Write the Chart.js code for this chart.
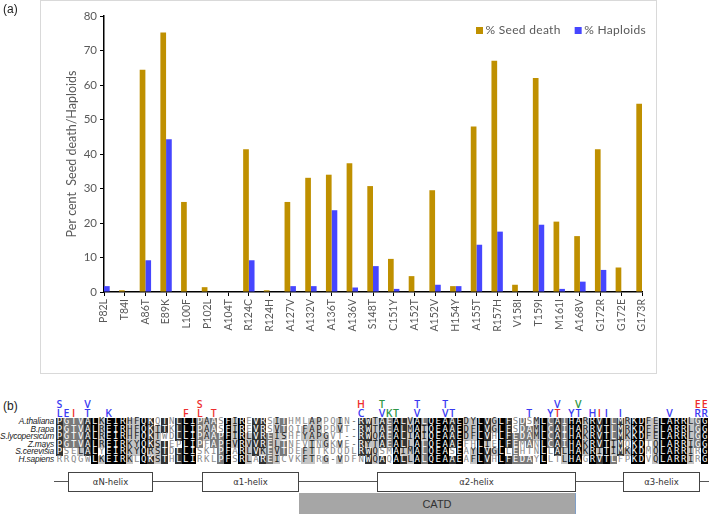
<!DOCTYPE html>
<html><head><meta charset="utf-8">
<script src="https://cdn.jsdelivr.net/npm/chart.js@4.4.0/dist/chart.umd.min.js"></script>
<style>
html,body{margin:0;padding:0;background:#fff;width:709px;height:514px;overflow:hidden;}
#frame{position:absolute;left:40px;top:0;width:617px;height:374px;border:1px solid #d9d9d9;box-sizing:border-box;}
#chartWrap{position:absolute;left:0;top:0;width:709px;height:380px;}
.plabel{position:absolute;font-family:'Liberation Sans',Arial,sans-serif;font-size:12px;color:#222;}
.cell{position:absolute;height:7.6px;font-family:'DejaVu Sans Mono',monospace;font-size:9px;line-height:7.8px;text-align:center;overflow:visible;}
.sp{position:absolute;right:655px;font-family:'Liberation Sans',Arial,sans-serif;font-style:italic;font-size:8.4px;letter-spacing:-0.2px;line-height:7.6px;color:#222;white-space:nowrap;}
.mk{position:absolute;width:8px;text-align:center;font-family:'Open Sans',sans-serif;font-weight:600;font-size:10.5px;line-height:9px;}
.helix{position:absolute;top:472px;height:20px;background:#fff;border:1px solid #444;box-sizing:border-box;font-family:'DejaVu Sans',sans-serif;font-size:8.5px;line-height:18px;text-align:center;color:#333;}
</style></head>
<body>
<div id="frame"></div>
<div id="chartWrap"><canvas id="c" width="709" height="380" style="width:709px;height:380px"></canvas></div>
<div class="plabel" style="left:3px;top:2px">(a)</div>
<div class="plabel" style="left:3px;top:399px">(b)</div>
<div id="seq"></div>
<script>
// ---------- panel (a) data ----------
const categories = ['P82L','T84I','A86T','E89K','L100F','P102L','A104T','R124C','R124H','A127V','A132V','A136T','A136V','S148T','C151Y','A152T','A152V','H154Y','A155T','R157H','V158I','T159I','M161I','A168V','G172R','G172E','G173R'];
const seedDeath = [0, 0.5, 64.4, 75.2, 26.1, 1.4, 0, 41.4, 0.5, 26.1, 33.1, 34.0, 37.3, 30.7, 9.6, 4.6, 29.5, 1.7, 48.0, 67.0, 2.1, 62.0, 20.4, 16.2, 41.4, 7.1, 54.6];
const haploids  = [1.7, 0, 9.2, 44.3, 0, 0, 0, 9.2, 0, 1.7, 1.7, 23.7, 1.3, 7.5, 0.9, 0, 2.1, 1.7, 13.7, 17.5, 0, 19.5, 0.9, 3.0, 6.4, 0, 0];
const seriesLabels = ['% Seed death', '% Haploids'];
const yAxisTitle = 'Per cent  Seed death/Haploids';

// ---------- panel (b) data ----------
const species = ['A.thaliana','B.rapa','S.lycopersicum','Z.mays','S.cerevisia','H.sapiens'];
const sequences = [
 'PGTVALKEIRHFQKQTNLLIPAASFIREVRSITHMLAPPQIN-RWTAEALVALQEAAEDYLVGLFSDSMLCAIHARRVTLMRKDFELARRLGG',
 'PGTVALREIRHFQKTTKLLIPAASFIREVRSVTQIFAPPDVT-RWTAEALMAIQEAAEDFLVGLFSDAMLCAIHARRVTLMRKDFELARRLGG',
 'PGTVALREIRHFQKTWDLLIPAAPFIRLVREISHFYAPGVT--RWQAEALIAIQEAAEDFLVHLFEDAMLCAIHAKRVTLMKKDFELARRLGG',
 'PGTVALREIRKYQKSTEPLIPFAPFVRVVRELTNFVTNGKVE-RYTAEALLALQEAAEFHLIELFEMANLCAIHAKRVTIMQKDIQLARRIGG',
 'PSELALYEIRKYQRSTDLLISKIPFARLVKEVTDEFTTKDQDLRWQSMAIMALQEASEAYLVGLLEHTNLLALHAKRITIMKKDMQLARRIRG',
 'RRQGWLKEIRKLQKSTHLLIRKLPFSRLAREICVKFTRG-VDFNWQAQALLALQEAAEAFLVHLFEDAYLLTLHAGRVTLFPKDVQLARRIRG'
];
const marksUpper = [[1,'S','b'],[5,'V','b'],[21,'S','r'],[44,'H','r'],[47,'T','g'],[52,'T','b'],[56,'T','b'],[72,'V','b'],[75,'V','g'],[92,'E','r'],[93,'E','r']];
const marksLower = [[1,'L','b'],[2,'E','b'],[3,'I','r'],[5,'T','b'],[8,'K','b'],[19,'F','r'],[21,'L','r'],[23,'T','r'],[44,'C','b'],[47,'V','b'],[48,'K','g'],[49,'T','g'],[52,'V','b'],[56,'V','b'],[57,'T','b'],[68,'T','b'],[71,'Y','b'],[72,'T','r'],[74,'Y','b'],[75,'T','b'],[77,'H','b'],[78,'I','r'],[79,'I','b'],[81,'I','b'],[88,'V','b'],[92,'R','b'],[93,'R','b']];
const helices = ['\u03b1N-helix','\u03b11-helix','\u03b12-helix','\u03b13-helix'];
const domainLabel = 'CATD';

// ---------- chart ----------
const legendPlugin = {
  id: 'cornerLegend',
  afterDraw(chart) {
    const ctx = chart.ctx;
    ctx.save();
    ctx.font = '12px Lato';
    try { ctx.letterSpacing = '0.3px'; } catch(e) {}
    ctx.textBaseline = 'middle';
    let x = 476; const y = 30.5;
    chart.data.datasets.forEach(ds => {
      ctx.fillStyle = ds.backgroundColor;
      ctx.fillRect(x, y - 3.5, 7, 7);
      x += 9.5;
      ctx.fillStyle = '#595959';
      ctx.fillText(ds.label, x, y);
      x += ctx.measureText(ds.label).width + 14;
    });
    ctx.restore();
  }
};

new Chart(document.getElementById('c'), {
  type: 'bar',
  data: {
    labels: categories,
    datasets: [
      { label: seriesLabels[0], data: seedDeath, backgroundColor: '#BF9000', borderWidth: 0, categoryPercentage: 0.55, barPercentage: 1 },
      { label: seriesLabels[1], data: haploids, backgroundColor: '#4646FF', borderWidth: 0, categoryPercentage: 0.55, barPercentage: 1 }
    ]
  },
  options: {
    responsive: false,
    animation: false,
    devicePixelRatio: 1,
    layout: { padding: { left: 60, right: 67, top: 16, bottom: 28 } },
    plugins: { legend: { display: false }, tooltip: { enabled: false } },
    scales: {
      x: {
        offset: false,
        grid: { offset: false, display: true, drawOnChartArea: false, drawTicks: true, tickLength: 4, color: '#000', lineWidth: 1 },
        border: { display: true, color: '#000', width: 1.5 },
        ticks: { color: '#595959', font: { family: 'Lato', size: 10.5 }, minRotation: 90, maxRotation: 90, autoSkip: false, padding: 3 },
        afterFit(s) { s.height = 60; }
      },
      y: {
        min: 0, max: 80,
        ticks: { stepSize: 10, color: '#595959', font: { family: 'Lato', size: 11.5 }, padding: 3 },
        grid: { drawOnChartArea: false, drawTicks: true, tickLength: 4, color: '#000' },
        border: { display: true, color: '#000', width: 1.5 },
        title: { display: true, text: yAxisTitle, color: '#595959', font: { family: 'Lato', size: 12.5 }, padding: { top: 4, bottom: 4 } },
        afterFit(s) { s.width = 44; }
      }
    }
  },
  plugins: [legendPlugin]
});

// ---------- alignment panel ----------
(function(){
  const root = document.getElementById('seq');
  const X0 = 56, CW = 7.012, Y0 = 418, RH = 7.6;
  const groups = ['ILVM','KR','DE','NQ','ST','FYW','AG','P','H','C'];
  const grp = ch => { for (const g of groups) if (g.indexOf(ch) >= 0) return g; return ch; };
  const ncol = sequences[0].length;
  for (let c = 0; c < ncol; c++) {
    const col = sequences.map(s => s[c]);
    for (let r = 0; r < sequences.length; r++) {
      const ch = col[r];
      const d = document.createElement('div');
      d.className = 'cell';
      d.textContent = ch;
      d.style.left = (X0 + c * CW) + 'px';
      d.style.top = (Y0 + r * RH) + 'px';
      d.style.width = (CW + 0.15) + 'px';
      let bg = '#fff', fg = '#8a8a8a';
      if (ch !== '-') {
        const ic = col.filter(x => x === ch).length;
        const sc = col.filter(x => x !== '-' && grp(x) === grp(ch)).length;
        if (ic === 6) { bg = '#000'; fg = '#fff'; }
        else if (ic === 5) { bg = '#333'; fg = '#fff'; }
        else if (ic === 4) { bg = '#7a7a7a'; fg = '#fff'; }
        else if (ic === 3 || sc >= 4) { bg = '#c4c4c4'; fg = '#222'; }
      } else { fg = '#555'; }
      d.style.background = bg; d.style.color = fg;
      root.appendChild(d);
    }
  }
  species.forEach((s, r) => {
    const d = document.createElement('div');
    d.className = 'sp'; d.textContent = s;
    d.style.top = (Y0 + r * RH) + 'px';
    root.appendChild(d);
  });
  const colors = { b: '#3a3af2', r: '#ee2e2e', g: '#2f9646' };
  const addMarks = (list, top) => list.forEach(([c, t, k]) => {
    const d = document.createElement('div');
    d.className = 'mk'; d.textContent = t;
    d.style.left = (X0 + (c - 1) * CW + CW / 2 - 4) + 'px';
    d.style.top = top + 'px';
    d.style.color = colors[k];
    root.appendChild(d);
  });
  addMarks(marksUpper, 400);
  addMarks(marksLower, 408.5);
  // helix track
  const line = document.createElement('div');
  line.style.cssText = 'position:absolute;left:54px;top:481px;width:655px;height:1px;background:#555;';
  root.appendChild(line);
  const hpos = [[68,153],[202,299],[377,576],[623,700]];
  helices.forEach((h, i) => {
    const d = document.createElement('div');
    d.className = 'helix'; d.textContent = h;
    d.style.left = hpos[i][0] + 'px'; d.style.width = (hpos[i][1] - hpos[i][0]) + 'px';
    root.appendChild(d);
  });
  const cat = document.createElement('div');
  cat.textContent = domainLabel;
  cat.style.cssText = 'position:absolute;left:299px;top:493px;width:277px;height:22px;background:#a6a6a6;border-right:1px solid #7f9fc8;box-sizing:border-box;font-family:"Liberation Sans",Arial,sans-serif;font-size:11px;line-height:22px;text-align:center;color:#333;';
  root.appendChild(cat);
})();
</script>
</body></html>
